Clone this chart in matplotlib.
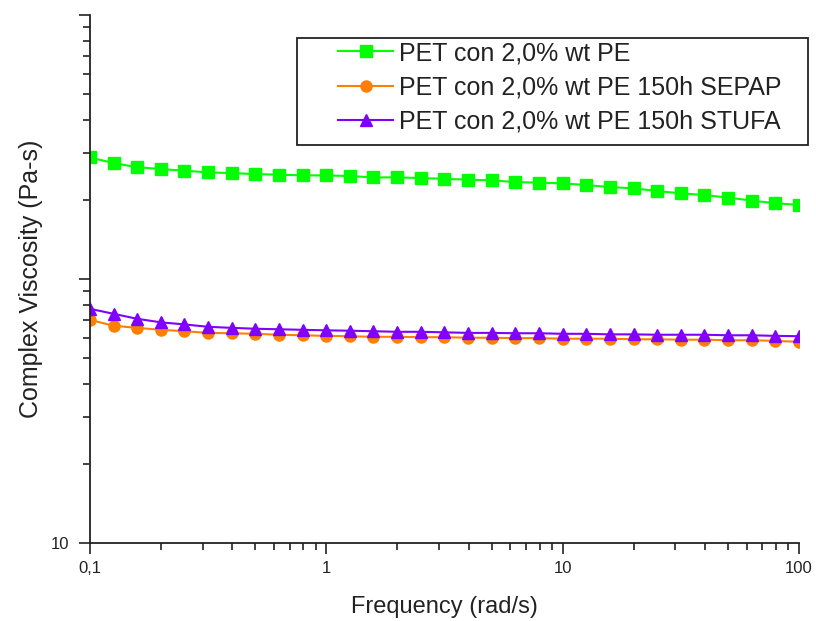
import matplotlib
matplotlib.use("Agg")
import matplotlib.pyplot as plt
from matplotlib.patches import Rectangle
from matplotlib.ticker import LogLocator, FixedLocator, FixedFormatter, NullFormatter

plt.rcParams['font.family'] = ['Liberation Sans', 'DejaVu Sans']

freq = [0.1, 0.126, 0.158, 0.2, 0.251, 0.316, 0.398, 0.501, 0.631, 0.794,
        1.0, 1.26, 1.58, 2.0, 2.51, 3.16, 3.98, 5.01, 6.31, 7.94,
        10.0, 12.6, 15.8, 20.0, 25.1, 31.6, 39.8, 50.1, 63.1, 79.4, 100.0]

pe = [288.7, 274.8, 265.3, 260.8, 257.2, 253.4, 251.9, 249.7, 248.4, 246.9,
      246.9, 245.4, 242.6, 242.6, 241.2, 239.5, 237.8, 236.4, 232.9, 231.7,
      230.3, 226.9, 223.0, 220.5, 215.4, 211.1, 208.0, 203.4, 198.2, 193.6, 190.8]

sepap = [70.0, 66.5, 65.3, 64.2, 63.4, 62.5, 62.3, 62.0, 61.5, 61.2,
         60.9, 60.7, 60.4, 60.4, 60.2, 60.2, 59.9, 59.9, 59.7, 59.7,
         59.4, 59.4, 59.4, 59.1, 59.1, 58.9, 58.9, 58.6, 58.6, 58.3, 57.8]

stufa = [77.1, 73.8, 70.7, 68.5, 67.3, 65.9, 65.3, 64.8, 64.5, 64.2,
         63.9, 63.7, 63.4, 63.1, 63.1, 62.8, 62.5, 62.5, 62.3, 62.3,
         62.0, 62.0, 61.7, 61.7, 61.5, 61.5, 61.5, 61.2, 61.2, 60.9, 60.7]

labels = ["PET con 2,0% wt PE", "PET con 2,0% wt PE 150h SEPAP", "PET con 2,0% wt PE 150h STUFA"]
xticks = [0.1, 1, 10, 100]
xticklabels = ["0,1", "1", "10", "100"]

W, H = 816, 621
fig = plt.figure(figsize=(W/100, H/100), dpi=100)
ax = fig.add_axes([90/W, 1-543/H, (799-90)/W, (543-15)/H])

ax.plot(freq, pe, color='#00ff00', marker='s', markersize=9, lw=1.5, label=labels[0])
ax.plot(freq, sepap, color='#ff8000', marker='o', markersize=8, lw=1.5, label=labels[1])
ax.plot(freq, stufa, color='#8000ff', marker='^', markersize=9, lw=1.5, label=labels[2])

ax.set_xscale('log')
ax.set_yscale('log')
ax.set_xlim(0.1, 100)
ax.set_ylim(10, 1000)

for s in ['top', 'right']:
    ax.spines[s].set_visible(False)
for s in ['left', 'bottom']:
    ax.spines[s].set_linewidth(1.3)
    ax.spines[s].set_color('#222222')

ax.xaxis.set_major_locator(FixedLocator(xticks))
ax.xaxis.set_major_formatter(FixedFormatter(xticklabels))
ax.xaxis.set_minor_locator(LogLocator(base=10, subs=range(2, 10)))
ax.xaxis.set_minor_formatter(NullFormatter())

ax.yaxis.set_major_locator(FixedLocator([10, 100, 1000]))
ax.yaxis.set_major_formatter(FixedFormatter(["10", "", ""]))
ax.yaxis.set_minor_locator(LogLocator(base=10, subs=range(2, 10)))
ax.yaxis.set_minor_formatter(NullFormatter())

ax.tick_params(which='major', direction='out', length=8, width=1.2, labelsize=12, colors='#222222')
ax.tick_params(which='minor', direction='out', length=5, width=1.2, colors='#222222')
ax.tick_params(axis='x', pad=5)
ax.tick_params(axis='y', pad=7)

ax.set_xlabel("Frequency (rad/s)", fontsize=17, color='#222222')
ax.set_ylabel("Complex Viscosity (Pa-s)", fontsize=18, color='#222222')
ax.xaxis.label.set_va('center')
ax.yaxis.label.set_va('center')
ax.xaxis.set_label_coords(0.5, (543-607)/528)
ax.yaxis.set_label_coords((31-90)/709, 0.5)

leg = ax.legend(loc='upper left', bbox_to_anchor=(338/W, 1-41/H), bbox_transform=fig.transFigure,
                borderaxespad=0, borderpad=0, fontsize=18, frameon=False, handlelength=2.2,
                labelspacing=0.42, handletextpad=0.25)
for t in leg.get_texts():
    t.set_color('#222222')

fig.patches.append(Rectangle((297/W, 1-145/H), (808-297)/W, (145-38)/H, transform=fig.transFigure,
                             fill=False, edgecolor='#222222', linewidth=1.3, zorder=5))

fig.savefig("out.png", dpi=100)
